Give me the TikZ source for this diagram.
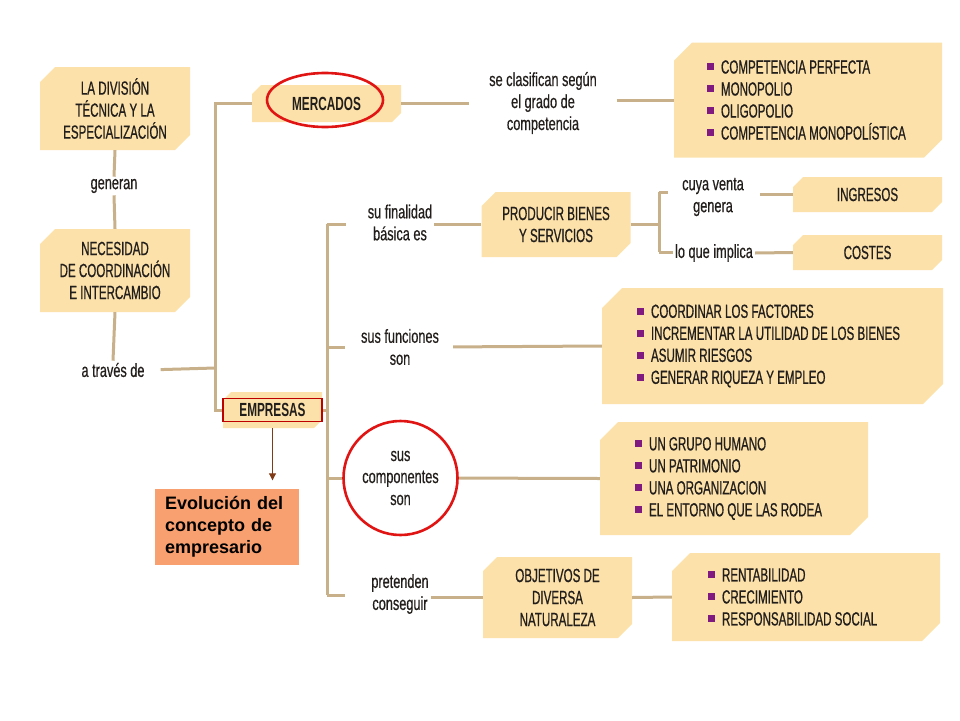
\documentclass[tikz,border=0pt]{standalone}
\usepackage{fontspec}
\setmainfont{Liberation Sans}
\newfontfamily\condfont[FakeStretch=0.61,FakeBold=0.7]{Liberation Sans}
\newfontfamily\lblfont[FakeStretch=0.67,FakeBold=0.5]{Liberation Sans}
\newfontfamily\headfont[FakeStretch=0.62]{Liberation Sans Bold}
\usetikzlibrary{arrows.meta,positioning}

\definecolor{boxbeige}{RGB}{252,226,170}
\definecolor{linetan}{RGB}{199,176,138}
\definecolor{inkgray}{RGB}{34,30,28}
\definecolor{bulletpurple}{RGB}{128,26,128}
\definecolor{evolorange}{RGB}{249,160,112}
\definecolor{arrowbrown}{RGB}{128,58,22}
\definecolor{markred}{RGB}{225,20,20}

% purple square in front of each item
\newcommand{\itm}{{\color{bulletpurple}\rule[3.3pt]{7pt}{7pt}}\hspace{7pt}}

\tikzset{
  box/.style={rectangle, inner sep=0pt, align=center, text=inkgray,
    font=\condfont\fontsize{19}{22}\selectfont,
    path picture={\fill[boxbeige] ([xshift=#1]path picture bounding box.north west)
      -- (path picture bounding box.north east) -- ([yshift=#1]path picture bounding box.south east)
      -- ([xshift=-#1]path picture bounding box.south east) -- (path picture bounding box.south west)
      -- ([yshift=-#1]path picture bounding box.north west) -- cycle;}},
  box/.default=14pt,
  items/.style={align=left, inner sep=0pt, text=inkgray, font=\condfont\fontsize{19}{22}\selectfont},
  lbl/.style={align=center, inner sep=2pt, text=inkgray, font=\lblfont\fontsize{19}{22}\selectfont},
  link/.style={draw=linetan, line width=3pt},
  redmark/.style={draw=markred, line width=2.6pt},
  evolbox/.style={fill=evolorange, minimum width=144pt, minimum height=76pt, text width=124pt,
    inner xsep=10pt, align=left, font=\bfseries\fontsize{18}{22}\selectfont},
}

\begin{document}
\begin{tikzpicture}[x=1pt,y=-1pt]
  \useasboundingbox (0,0) rectangle (960,720);

  % Left column
  \node[box=15pt, minimum width=150pt, minimum height=83pt] (division) at (115,108.5) {LA DIVISIÓN\\TÉCNICA Y LA\\ESPECIALIZACIÓN};
  \node[lbl] (generan) at (114,186) {generan};
  \node[box=15pt, minimum width=150pt, minimum height=83pt] (necesidad) at (115,270.5) {NECESIDAD\\DE COORDINACIÓN\\E INTERCAMBIO};
  \node[lbl] (atraves) at (113,370) {a través de};

  % Mercados and empresas
  \node[box=9pt, minimum width=149pt, minimum height=37pt, font=\headfont\fontsize{19}{22}\selectfont] (mercados) at (326.5,103.5) {MERCADOS};
  \node[box=8pt, minimum width=99pt, minimum height=36pt, font=\headfont\fontsize{19}{22}\selectfont] (empresas) at (272.5,410) {EMPRESAS};
  \node[evolbox] (evolucion) at (227,526.5) {Evolución del\\concepto de\\empresario};

  % Market types
  \node[lbl] (clasifican) at (543,103) {se clasifican según\\el grado de\\competencia};
  \node[box=18pt, minimum width=268pt, minimum height=115pt] (mercbox) at (808,100) {};
  \node[items, anchor=west] (merctipos) at ([xshift=33pt]mercbox.west) {\itm COMPETENCIA PERFECTA\\\itm MONOPOLIO\\\itm OLIGOPOLIO\\\itm COMPETENCIA MONOPOLÍSTICA};

  % Finalidad
  \node[lbl] (finalidad) at (400,222.5) {su finalidad\\básica es};
  \node[box, minimum width=149pt, minimum height=65pt] (producir) at (556,224.5) {PRODUCIR BIENES\\Y SERVICIOS};
  \node[lbl] (cuya) at (713,197) {cuya venta\\genera};
  \node[lbl] (implica) at (714,253) {lo que implica};
  \node[box=10pt, minimum width=149pt, minimum height=35pt] (ingresos) at (867.5,194.5) {INGRESOS};
  \node[box=10pt, minimum width=149pt, minimum height=35pt] (costes) at (867.5,252.5) {COSTES};

  % Funciones
  \node[lbl] (funciones) at (400,347) {sus funciones\\son};
  \node[box=20pt, minimum width=341pt, minimum height=116pt] (funcbox) at (772.5,346) {};
  \node[items, anchor=west] (funclista) at ([xshift=35pt]funcbox.west) {\itm COORDINAR LOS FACTORES\\\itm INCREMENTAR LA UTILIDAD DE LOS BIENES\\\itm ASUMIR RIESGOS\\\itm GENERAR RIQUEZA Y EMPLEO};

  % Componentes
  \node[lbl] (componentes) at (400.5,478) {sus\\componentes\\son};
  \node[box=18pt, minimum width=268pt, minimum height=113pt] (compbox) at (734,478.5) {};
  \node[items, anchor=west] (complista) at ([xshift=35pt]compbox.west) {\itm UN GRUPO HUMANO\\\itm UN PATRIMONIO\\\itm UNA ORGANIZACION\\\itm EL ENTORNO QUE LAS RODEA};

  % Objetivos
  \node[lbl] (pretenden) at (400,594) {pretenden\\conseguir};
  \node[box, minimum width=149pt, minimum height=81pt] (objetivos) at (557.5,597.5) {OBJETIVOS DE\\DIVERSA\\NATURALEZA};
  \node[box=18pt, minimum width=268pt, minimum height=88pt] (objbox) at (806,597) {};
  \node[items, anchor=west] (objlista) at ([xshift=36pt]objbox.west) {\itm RENTABILIDAD\\\itm CRECIMIENTO\\\itm RESPONSABILIDAD SOCIAL};

  % Bracket corners
  \coordinate (br1) at (215,368);
  \coordinate (br2t) at (327,224);
  \coordinate (br2b) at (327,595);
  \coordinate (br3t) at (659,192);
  \coordinate (br3b) at (659,252);

  % Left connectors
  \draw[link] (division.south) -- (generan.north);
  \draw[link] (generan.south) -- (necesidad.north);
  \draw[link] (necesidad.south) -- (atraves.north);
  \draw[link, shorten <=14pt] (atraves.east) -- (br1);
  \draw[link] (mercados.west) -| (br1) |- (empresas.west);

  % Mercados connectors
  \draw[link, shorten >=18pt] (mercados.east) -- (clasifican.west |- mercados.east);
  \draw[link, shorten <=18pt] (clasifican.east |- mercbox.west) -- (mercbox.west);

  % Empresas bracket
  \draw[link] (empresas.east) -- (empresas.east -| br2t);
  \draw[link] (br2t) -- (br2b);
  \draw[link, shorten >=20pt] (br2t) -- (finalidad.west |- br2t);
  \draw[link, shorten >=14pt] (funciones.west -| br2t) -- (funciones.west);
  \draw[link, shorten >=16pt] (componentes.west -| br2t) -- (componentes.west);
  \draw[link, shorten >=24pt] (br2b) -- (pretenden.west |- br2b);

  % Right connectors
  \draw[link] (finalidad.east |- producir.west) -- (producir.west);
  \draw[link] (producir.east) -- (producir.east -| br3t);
  \draw[link] (br3t) -- (br3b);
  \draw[link, shorten >=12pt] (br3t) -- (cuya.west |- br3t);
  \draw[link] (br3b) -- (implica.west |- br3b);
  \draw[link, shorten <=14pt] (cuya.east |- ingresos.west) -- (ingresos.west);
  \draw[link] (implica.east) -- (costes.west);
  \draw[link, shorten <=12pt] (funciones.east) -- (funcbox.west);
  \draw[link, shorten <=17pt] (componentes.east) -- (compbox.west);
  \draw[link] (pretenden.east |- objetivos.west) -- (objetivos.west);
  \draw[link] (objetivos.east) -- (objbox.west);

  % Arrow to evolucion
  \draw[arrowbrown, line width=1pt, -{Triangle[length=7pt,width=7pt]}, shorten >=8pt] (empresas.south) -- (evolucion.north -| empresas.south);

  % Red marks
  \draw[redmark] (mercados.center) ++(-1.5,-3.5) ellipse (58 and 27);
  \draw[redmark, line width=1.3pt, draw=red!75!black] ([shift={(-49.5,-11.5)}]empresas.center) rectangle ([shift={(49.5,11.5)}]empresas.center);
  \draw[redmark] (componentes.center) circle (57);
\end{tikzpicture}
\end{document}
